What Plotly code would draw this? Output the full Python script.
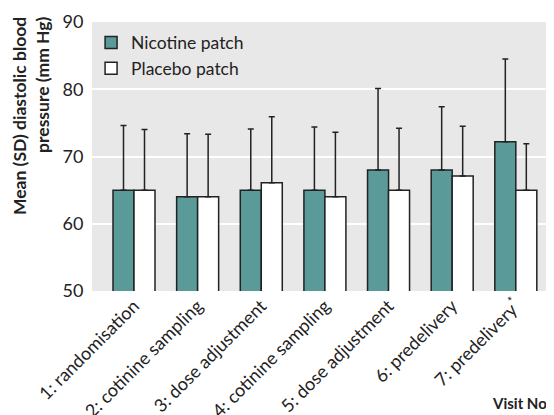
import plotly.graph_objects as go

categories = ["1: randomisation", "2: cotinine sampling", "3: dose adjustment",
              "4: cotinine sampling", "5: dose adjustment", "6: predelivery",
              "7: predelivery<sup>*</sup>"]
nicotine_mean = [65.0, 64.0, 65.0, 65.0, 68.0, 68.0, 72.2]
nicotine_sd = [9.6, 9.4, 9.1, 9.4, 12.1, 9.4, 12.3]
placebo_mean = [65.0, 64.0, 66.1, 64.0, 65.0, 67.1, 65.0]
placebo_sd = [9.0, 9.3, 9.8, 9.6, 9.2, 7.4, 6.9]

FONT = "Lato"
TXT = "#222222"

fig = go.Figure()
fig.add_trace(go.Bar(
    name="Nicotine patch", x=categories, y=nicotine_mean,
    marker=dict(color="#5A9A98", line=dict(color="#222222", width=1.5)),
    error_y=dict(type="data", array=nicotine_sd, arrayminus=[0]*7, symmetric=False,
                 color="#222222", thickness=1.5, width=3),
))
fig.add_trace(go.Bar(
    name="Placebo patch", x=categories, y=placebo_mean,
    marker=dict(color="#FFFFFF", line=dict(color="#222222", width=1.5)),
    error_y=dict(type="data", array=placebo_sd, arrayminus=[0]*7, symmetric=False,
                 color="#222222", thickness=1.5, width=3),
))

# page has an 8px body margin, so figure coords = page coords - 8
fig.update_layout(
    width=554, height=415,
    margin=dict(l=84, r=8, t=14, b=132),
    paper_bgcolor="white", plot_bgcolor="#E8E8E8",
    barmode="group", bargap=0.34, bargroupgap=0,
    font=dict(family=FONT, size=15, color=TXT),
    showlegend=True,
    legend=dict(x=-0.002, y=0.99, xanchor="left", yanchor="top",
                bgcolor="rgba(0,0,0,0)", font=dict(size=17.5, color=TXT),
                tracegroupgap=0),
    xaxis=dict(range=[-0.66, 6.6], tickangle=-45, showgrid=False, zeroline=False,
               automargin=False, ticks="", tickfont=dict(size=18, color=TXT)),
    yaxis=dict(range=[50, 90], tickvals=[50, 60, 70, 80, 90], showgrid=True,
               automargin=False, gridcolor="white", gridwidth=2, zeroline=False,
               tickfont=dict(size=18, color=TXT), ticks="outside", ticklen=4,
               tickcolor="rgba(0,0,0,0)"),
    annotations=[
        dict(text="<b>Mean (SD) diastolic blood<br>pressure (mm Hg)</b>",
             xref="paper", yref="paper", x=(31-92)/462, y=(291-15)/269,
             xanchor="center", yanchor="top", textangle=-90, align="right",
             showarrow=False, font=dict(size=17.5, color=TXT, family=FONT)),
        dict(text="<b>Visit No</b>", xref="paper", yref="paper",
             x=(490-92)/462, y=(291-403)/269, xanchor="left", yanchor="middle",
             showarrow=False, font=dict(size=15, color=TXT, family=FONT)),
    ],
)

fig.write_html("out.html")
